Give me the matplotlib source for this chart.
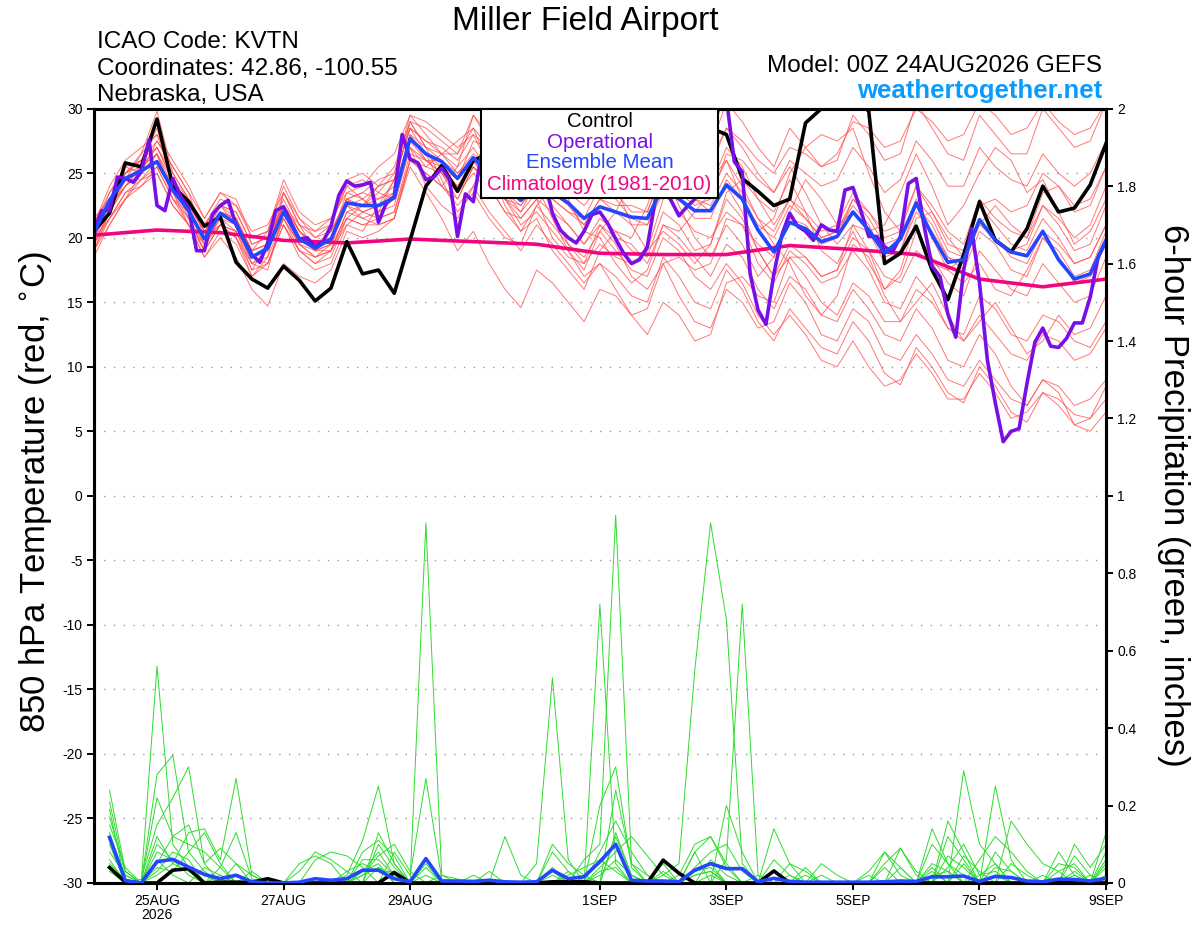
import numpy as np
import pandas as pd
import matplotlib
matplotlib.use('Agg')
import matplotlib.pyplot as plt
import matplotlib.dates as mdates
from matplotlib.patches import Rectangle

plt.rcParams['font.family'] = ['Liberation Sans', 'DejaVu Sans']
plt.rcParams['axes.unicode_minus'] = False

START = '2026-08-24 00:00'

# --- 850 hPa temperature (C), 6-hourly, 24AUG 00Z .. 9SEP 00Z ---
control_t = [20.5, 21.9, 25.8, 25.5, 29.2, 24.0, 22.8, 20.9, 21.6, 18.1, 16.8, 16.1, 17.8, 16.7, 15.1, 16.1,
             19.7, 17.2, 17.5, 15.7, 19.8, 24.0, 25.6, 23.6, 26.0, 26.5, 25.5, 24.0, 26.0, 25.0, 24.5, 24.0,
             26.0, 25.5, 25.0, 25.5, 27.5, 27.0, 27.5, 28.5, 28.0, 24.6, 23.6, 22.5, 23.0, 28.9, 30.0, 31.5,
             31.0, 29.8, 18.0, 18.8, 20.9, 17.5, 15.2, 18.7, 22.8, 19.8, 18.9, 20.7, 24.0, 22.0, 22.3, 24.1,
             27.3]
mean_t = [20.3, 22.9, 24.6, 25.2, 25.9, 23.7, 22.1, 19.9, 21.9, 21.1, 18.5, 19.2, 22.0, 19.9, 19.2, 19.9,
          22.7, 22.5, 22.5, 23.1, 27.7, 26.5, 25.9, 24.6, 26.2, 25.0, 24.0, 22.9, 24.0, 23.5, 22.7, 21.5,
          22.4, 22.0, 21.6, 21.5, 24.0, 23.0, 22.1, 22.1, 24.1, 23.0, 20.6, 18.9, 21.2, 20.7, 19.7, 20.1,
          22.0, 20.6, 18.8, 19.9, 22.7, 20.2, 18.1, 18.3, 21.4, 19.8, 18.9, 18.6, 20.5, 18.3, 16.8, 17.2,
          19.8]
# operational run is 3-hourly
oper_t = [20.5, 22.1, 22.1, 24.7, 24.6, 24.3, 25.1, 27.6, 22.5, 22.1, 24.6, 23.2, 22.3, 19.0, 19.0, 21.8,
          22.5, 22.9, 21.0, 19.8, 18.7, 18.1, 19.6, 22.1, 22.4, 21.1, 19.9, 20.0, 19.3, 19.7, 20.9, 23.3,
          24.4, 24.0, 24.1, 24.3, 21.2, 22.7, 23.2, 28.0, 26.1, 25.8, 24.5, 24.7, 25.4, 24.5, 20.1, 23.4,
          22.8, 26.4, 26.0, 25.5, 27.0, 26.5, 25.5, 26.0, 25.5, 24.5, 21.9, 20.6, 20.0, 19.6, 20.5, 21.8,
          22.0, 21.1, 19.9, 18.8, 18.0, 18.3, 19.3, 22.9, 24.0, 22.9, 21.7, 22.4, 23.0, 25.0, 27.5, 30.0,
          30.8, 25.9, 25.1, 17.2, 14.4, 13.3, 17.2, 20.2, 21.9, 20.9, 20.5, 19.8, 21.0, 20.6, 20.5, 23.7,
          23.9, 22.1, 20.1, 20.1, 19.3, 18.9, 20.1, 24.2, 24.6, 20.9, 17.8, 17.0, 14.1, 12.3, 17.5, 20.7,
          16.5, 10.5, 7.2, 4.2, 5.0, 5.2, 8.7, 11.9, 13.0, 11.6, 11.5, 12.2, 13.4, 13.4, 15.4, 18.5,
          19.8]
# climatology, daily
clim_t = [20.2, 20.6, 20.4, 19.8, 19.6, 19.9, 19.7, 19.5, 18.8, 18.7, 18.7, 19.4, 19.1, 18.7, 16.8, 16.2, 16.8]

# ensemble members
m01 = [19.5, 22.0, 24.0, 25.5, 27.0, 24.5, 22.5, 20.5, 22.5, 21.0, 19.0, 19.5, 23.0, 20.5, 19.5, 20.0,
       23.5, 23.0, 24.0, 24.5, 28.5, 27.5, 27.0, 26.0, 28.0, 27.0, 25.5, 25.0, 27.5, 26.0, 25.0, 24.0,
       26.5, 25.5, 24.0, 24.5, 28.0, 26.5, 25.0, 25.5, 28.5, 27.0, 25.0, 23.5, 26.0, 25.0, 24.0, 24.5,
       27.0, 25.5, 23.5, 24.5, 27.5, 26.0, 24.0, 24.0, 27.0, 25.5, 24.5, 24.0, 26.5, 25.0, 24.0, 25.0, 27.5]
m02 = [21.0, 23.5, 25.0, 26.5, 29.8, 25.0, 23.0, 21.0, 23.0, 22.5, 20.0, 20.5, 24.0, 21.5, 20.0, 21.0,
       24.0, 24.5, 23.5, 25.0, 29.5, 28.0, 26.5, 25.5, 27.0, 25.0, 23.5, 22.0, 24.5, 22.5, 21.0, 19.5,
       21.5, 20.5, 19.0, 18.5, 22.0, 21.0, 19.0, 19.5, 23.0, 21.5, 19.0, 17.0, 19.5, 18.5, 17.0, 17.5,
       20.0, 19.0, 16.0, 17.0, 20.5, 18.5, 16.5, 15.5, 19.0, 17.5, 16.0, 15.5, 18.0, 16.5, 15.0, 15.5, 18.5]
m03 = [20.0, 22.5, 24.5, 24.5, 25.5, 23.0, 21.5, 19.0, 21.0, 20.5, 17.5, 18.0, 21.0, 19.0, 18.0, 18.5,
       21.5, 21.0, 21.0, 21.5, 26.0, 25.0, 24.0, 22.5, 24.0, 22.0, 20.5, 19.0, 21.0, 19.5, 18.0, 16.5,
       18.0, 17.0, 15.5, 15.0, 18.5, 17.0, 15.0, 14.5, 17.5, 16.0, 13.5, 12.0, 14.5, 13.0, 11.5, 11.0,
       13.5, 12.0, 9.5, 8.6, 11.5, 10.0, 8.0, 7.2, 10.0, 8.5, 6.5, 5.7, 8.0, 7.5, 6.3, 6.0, 8.5]
m04 = [19.0, 21.5, 23.5, 24.0, 25.0, 22.5, 21.0, 18.5, 20.5, 19.5, 17.0, 18.5, 21.5, 19.5, 18.5, 19.0,
       22.0, 21.5, 22.0, 22.5, 27.0, 25.5, 25.0, 23.0, 25.5, 24.0, 22.0, 21.5, 23.0, 22.0, 21.0, 19.5,
       21.0, 20.0, 19.5, 18.0, 21.0, 20.0, 18.5, 17.0, 19.5, 18.5, 16.0, 14.5, 17.0, 16.0, 14.0, 13.5,
       16.0, 14.5, 12.5, 12.0, 14.5, 13.0, 10.5, 10.0, 12.5, 11.0, 8.5, 7.0, 9.0, 8.0, 5.5, 6.0, 7.5]
m05 = [20.5, 23.0, 25.5, 26.0, 28.5, 24.0, 22.0, 20.0, 22.0, 21.5, 18.5, 19.0, 22.5, 20.0, 19.0, 20.5,
       23.0, 23.5, 23.0, 24.0, 29.0, 28.5, 27.5, 26.5, 29.5, 28.0, 27.0, 26.5, 29.5, 28.0, 27.0, 26.0,
       29.0, 28.0, 26.5, 26.5, 29.5, 28.5, 27.0, 27.0, 30.5, 29.0, 27.0, 25.5, 28.5, 27.0, 25.5, 26.0,
       29.5, 28.0, 26.0, 26.5, 30.5, 28.5, 26.5, 26.0, 29.5, 28.0, 26.5, 26.5, 30.0, 28.5, 27.0, 27.5, 30.5]
m06 = [20.0, 22.0, 24.0, 25.0, 26.0, 24.0, 22.5, 20.5, 22.0, 21.0, 18.0, 17.5, 22.0, 20.0, 19.0, 19.5,
       22.5, 21.5, 21.0, 21.5, 25.5, 23.5, 21.5, 19.0, 20.5, 18.0, 16.0, 14.6, 17.5, 16.5, 15.0, 13.5,
       16.0, 15.5, 14.0, 14.5, 18.0, 18.5, 17.5, 18.0, 21.5, 21.0, 19.5, 18.5, 21.5, 21.0, 19.5, 20.0,
       23.0, 22.0, 20.0, 20.5, 24.0, 22.5, 20.5, 19.5, 23.0, 21.5, 20.5, 20.0, 22.5, 21.0, 19.0, 19.5, 22.5]
m07 = [21.5, 23.0, 25.0, 26.0, 27.5, 25.5, 23.5, 21.5, 23.5, 22.5, 20.5, 21.0, 23.5, 21.0, 20.0, 20.5,
       22.5, 23.0, 22.0, 23.0, 27.5, 26.0, 26.0, 25.0, 26.5, 25.5, 24.5, 23.5, 25.0, 24.5, 23.5, 22.5,
       24.0, 23.5, 22.0, 22.0, 25.5, 24.0, 23.0, 22.5, 25.0, 23.5, 21.5, 20.5, 23.0, 22.0, 20.5, 21.0,
       23.5, 22.0, 20.5, 21.0, 24.0, 22.0, 19.5, 19.0, 22.5, 21.0, 19.5, 19.0, 21.5, 20.0, 18.0, 18.5, 21.0]
m08 = [20.5, 22.5, 24.0, 25.5, 26.5, 23.5, 21.0, 19.5, 21.5, 20.5, 18.0, 19.0, 21.5, 19.0, 18.5, 19.0,
       22.0, 22.5, 23.0, 23.5, 28.0, 27.0, 26.5, 25.0, 26.0, 24.0, 23.0, 21.0, 22.0, 20.5, 19.0, 17.0,
       18.0, 16.0, 14.0, 12.5, 15.0, 14.0, 12.0, 12.5, 16.5, 17.0, 15.5, 15.0, 18.5, 18.5, 17.0, 17.5,
       21.0, 20.5, 18.0, 19.0, 22.5, 21.0, 18.5, 17.5, 20.5, 19.5, 17.5, 17.0, 20.0, 19.0, 17.0, 17.5, 20.5]
m09 = [19.5, 21.5, 23.5, 24.5, 25.0, 22.5, 21.0, 19.0, 21.0, 20.0, 17.0, 18.0, 21.0, 19.0, 18.0, 19.0,
       21.5, 21.0, 21.5, 22.0, 26.5, 26.0, 25.5, 24.5, 27.5, 27.0, 26.0, 25.5, 28.0, 27.5, 26.5, 25.5,
       27.5, 26.5, 25.0, 24.5, 27.0, 25.5, 23.0, 22.0, 24.0, 22.0, 19.0, 17.0, 18.5, 17.0, 15.0, 14.0,
       16.5, 15.5, 13.5, 13.5, 16.0, 15.0, 13.0, 12.5, 15.5, 14.5, 12.5, 12.0, 14.0, 13.5, 12.0, 11.5, 13.5]
m10 = [21.0, 24.0, 26.0, 27.0, 28.0, 24.5, 22.0, 20.0, 22.5, 22.0, 19.5, 20.0, 22.5, 20.5, 19.5, 20.5,
       23.0, 22.0, 22.5, 23.5, 28.0, 26.0, 25.0, 23.5, 25.0, 23.5, 23.0, 22.0, 23.5, 23.0, 22.0, 21.0,
       23.0, 22.5, 22.5, 22.0, 25.0, 24.5, 23.5, 24.0, 27.0, 25.5, 23.0, 21.0, 23.0, 21.5, 20.0, 20.5,
       22.5, 21.0, 18.5, 19.0, 22.0, 20.5, 18.5, 18.0, 21.0, 20.0, 19.0, 19.5, 22.5, 21.5, 20.0, 21.0, 24.0]
m11 = [20.0, 23.0, 24.5, 25.0, 26.5, 24.0, 22.5, 20.5, 22.0, 21.5, 19.0, 19.5, 22.5, 20.5, 19.5, 20.0,
       23.0, 23.5, 24.5, 25.0, 29.0, 27.0, 26.0, 24.5, 26.0, 25.0, 24.5, 24.5, 27.0, 26.5, 25.5, 25.0,
       27.5, 27.0, 26.0, 26.0, 29.0, 28.0, 26.5, 26.0, 28.5, 27.5, 26.0, 25.0, 27.0, 26.5, 25.5, 26.5,
       29.0, 28.5, 27.0, 27.5, 30.0, 29.0, 27.5, 28.0, 30.5, 29.5, 28.0, 28.5, 30.5, 29.0, 28.0, 28.5, 30.5]
m12 = [19.0, 21.0, 23.0, 24.0, 25.5, 23.0, 21.0, 18.5, 20.0, 18.5, 16.0, 14.7, 18.0, 17.0, 16.5, 17.5,
       20.5, 20.0, 20.5, 21.5, 26.0, 25.0, 24.0, 23.0, 25.5, 24.5, 23.5, 22.5, 24.0, 23.0, 22.0, 21.5,
       24.0, 23.0, 21.5, 21.0, 23.5, 22.0, 20.5, 20.0, 22.0, 21.0, 18.0, 16.5, 19.0, 18.0, 16.5, 17.0,
       19.0, 17.5, 15.0, 14.5, 17.0, 15.5, 13.0, 12.0, 14.0, 12.5, 11.0, 10.5, 12.5, 12.0, 10.5, 11.0, 13.0]
m13 = [20.5, 22.5, 24.5, 25.5, 26.5, 24.5, 23.0, 21.0, 22.5, 22.0, 19.5, 20.0, 22.5, 20.5, 19.0, 20.0,
       23.0, 22.5, 23.5, 23.0, 27.0, 26.0, 25.0, 24.0, 25.5, 24.0, 22.0, 20.5, 22.5, 21.0, 19.5, 18.5,
       20.5, 19.0, 17.5, 17.0, 20.0, 19.0, 17.0, 16.0, 18.0, 16.5, 14.0, 12.5, 14.0, 12.5, 10.5, 10.0,
       12.0, 10.0, 8.5, 9.0, 11.0, 9.5, 7.5, 7.5, 9.5, 8.0, 6.0, 6.5, 8.0, 7.0, 5.5, 5.0, 6.5]
m14 = [20.0, 22.5, 24.0, 25.0, 26.0, 23.5, 21.5, 19.5, 21.5, 21.0, 18.5, 19.0, 22.0, 19.5, 18.5, 19.5,
       22.5, 22.0, 22.5, 23.0, 27.5, 26.5, 25.5, 24.0, 26.0, 24.5, 23.0, 22.5, 24.5, 23.5, 22.5, 21.0,
       23.0, 22.0, 21.0, 21.0, 24.0, 23.0, 21.5, 21.5, 24.5, 23.0, 21.0, 20.0, 22.5, 21.5, 20.0, 20.5,
       23.0, 21.5, 19.5, 20.0, 23.0, 21.5, 19.0, 18.5, 21.5, 20.0, 18.5, 18.0, 20.5, 19.5, 18.0, 18.5, 21.0]
m15 = [18.5, 21.0, 23.0, 24.5, 26.0, 24.0, 22.0, 19.5, 21.0, 20.5, 18.5, 18.0, 21.5, 19.5, 19.0, 19.5,
       21.5, 22.5, 24.0, 25.5, 29.0, 27.0, 24.5, 22.0, 23.5, 21.5, 20.0, 19.5, 22.5, 24.0, 25.0, 24.5,
       26.0, 24.0, 21.0, 19.0, 20.5, 19.5, 18.0, 19.5, 23.5, 24.5, 23.0, 22.0, 24.5, 22.0, 19.0, 18.0,
       20.5, 18.0, 16.0, 17.5, 21.5, 22.0, 20.0, 18.5, 21.0, 22.5, 21.0, 20.0, 23.5, 24.0, 22.0, 22.5, 25.5]
m16 = [21.0, 22.5, 25.0, 25.5, 27.0, 25.0, 23.0, 21.0, 22.5, 21.5, 19.0, 19.5, 22.5, 21.0, 20.5, 21.0,
       24.5, 25.0, 24.0, 24.5, 28.5, 27.5, 26.5, 26.5, 28.5, 27.0, 25.0, 23.0, 25.0, 22.0, 19.5, 18.0,
       19.5, 18.5, 18.0, 19.0, 23.0, 23.5, 22.5, 23.0, 26.5, 26.0, 24.5, 23.5, 25.5, 23.5, 21.0, 19.5,
       21.0, 19.0, 17.0, 16.5, 19.0, 18.0, 17.5, 18.5, 22.5, 23.0, 22.0, 22.5, 25.0, 24.0, 22.5, 23.0, 25.5]
m17 = [20.0, 21.5, 23.0, 25.0, 27.5, 25.5, 23.5, 20.0, 21.0, 20.0, 18.0, 18.5, 23.5, 21.5, 20.5, 21.5,
       24.0, 23.0, 22.0, 24.5, 27.0, 24.0, 22.5, 21.5, 24.0, 26.5, 27.5, 25.0, 24.0, 21.5, 19.0, 17.5,
       20.5, 22.0, 24.5, 26.0, 25.0, 22.5, 20.0, 18.5, 21.0, 19.5, 17.0, 18.5, 22.0, 24.5, 23.0, 21.0,
       22.0, 20.5, 21.0, 23.5, 26.5, 24.0, 21.0, 22.5, 25.0, 27.0, 26.0, 23.5, 24.5, 22.0, 19.5, 20.5, 23.0]
m18 = [19.5, 22.0, 25.0, 26.0, 27.0, 24.5, 21.5, 19.0, 22.0, 21.5, 19.0, 20.5, 21.0, 18.5, 17.5, 18.0,
       21.0, 20.5, 22.5, 24.5, 28.5, 26.5, 24.0, 25.5, 29.5, 27.5, 25.0, 24.0, 26.0, 25.5, 23.0, 20.5,
       20.0, 18.0, 16.5, 17.5, 21.0, 20.5, 22.0, 23.5, 26.0, 24.0, 21.5, 19.5, 18.0, 15.5, 14.0, 15.5,
       19.5, 18.5, 15.5, 13.5, 15.0, 16.5, 14.0, 12.0, 13.5, 15.0, 13.0, 11.0, 12.0, 14.0, 12.5, 13.0, 15.5]
m19 = [20.5, 23.5, 25.5, 25.0, 26.5, 23.0, 22.0, 20.0, 21.0, 20.0, 17.5, 19.5, 23.5, 21.0, 19.0, 19.0,
       21.0, 22.0, 21.5, 22.0, 26.0, 25.5, 26.5, 27.5, 28.5, 25.5, 22.5, 20.5, 21.5, 19.0, 17.5, 16.0,
       19.0, 20.5, 20.0, 22.5, 26.5, 27.5, 25.5, 24.5, 26.0, 23.0, 20.5, 21.5, 25.0, 27.0, 28.0, 27.5,
       28.5, 25.0, 22.0, 20.5, 22.5, 20.0, 17.5, 16.5, 18.0, 16.0, 15.5, 17.5, 20.0, 18.5, 16.5, 17.0, 19.5]
m20 = [19.0, 22.0, 24.5, 26.5, 28.0, 26.0, 24.0, 21.5, 23.5, 23.0, 20.0, 20.5, 24.5, 22.0, 21.0, 21.5,
       23.5, 24.0, 25.5, 26.5, 29.5, 29.0, 28.0, 27.0, 28.0, 25.5, 23.0, 21.5, 23.0, 20.0, 18.5, 18.0,
       21.0, 19.5, 17.0, 16.0, 18.0, 15.5, 13.5, 13.0, 16.0, 15.0, 13.0, 13.5, 16.5, 15.0, 12.5, 12.0,
       14.5, 13.5, 11.0, 10.5, 12.5, 11.0, 9.0, 8.5, 10.5, 9.0, 7.5, 7.0, 9.0, 8.5, 7.0, 7.5, 9.0]
members_t = [m01, m02, m03, m04, m05, m06, m07, m08, m09, m10,
             m11, m12, m13, m14, m15, m16, m17, m18, m19, m20]

# --- 6-hour precipitation (inches), 24AUG 06Z .. 9SEP 00Z ---
mean_p = [.118, .006, 0, .055, .061, .041, .022, .011, .020, .003, 0, 0, .002, .011, .007, .011,
          .033, .033, .011, .003, .063, .005, .005, .004, .007, .003, .002, .003, .033, .011, .016, .055,
          .100, .007, .005, .005, .003, .033, .050, .037, .037, .003, .012, .004, .002, .002, .002, .002,
          .002, .003, .005, .004, .016, .016, .018, .004, .017, .014, .005, .003, .010, .009, .005, .012]
control_p = [.040, .002, 0, 0, .033, .037, 0, .002, .002, .002, .011, 0, 0, 0, 0, 0,
             0, 0, .027, 0, 0, 0, 0, 0, 0, 0, 0, 0, .003, .003, .003, 0,
             0, 0, 0, .059, .025, 0, 0, 0, 0, 0, .031, 0, 0, 0, 0, 0,
             0, 0, 0, 0, 0, 0, 0, 0, 0, 0, 0, 0, .006, 0, 0, 0]
p01 = [.24, .03, 0, .56, .10, .04, 0, .02, 0, 0, 0, 0, 0, 0, 0, 0,
       .03, .05, 0, 0, .93, .02, 0, 0, 0, 0, 0, 0, .04, 0, 0, 0,
       .12, .02, 0, 0, 0, .03, .05, 0, 0, 0, 0, 0, .02, 0, 0, 0,
       0, 0, 0, 0, .05, .03, 0, 0, .02, 0, 0, 0, 0, 0, 0, .05]
p02 = [.21, .02, 0, .28, .33, .08, .13, .05, 0, 0, 0, 0, 0, 0, 0, .02,
       .11, .25, .05, 0, .02, 0, 0, 0, 0, 0, 0, 0, 0, .03, 0, .72,
       .05, 0, 0, .03, 0, 0, .02, 0, 0, 0, 0, 0, 0, 0, 0, 0,
       0, .08, .04, 0, 0, 0, .29, .10, .05, 0, 0, 0, 0, .07, .02, 0]
p03 = [.19, 0, .01, .15, .22, .30, .05, 0, .02, 0, 0, 0, 0, .06, .08, .07,
       .04, 0, .08, .02, .27, .01, 0, 0, 0, 0, 0, .05, .53, .06, 0, 0,
       .24, .05, .02, 0, 0, 0, 0, .06, .72, .02, 0, 0, 0, 0, 0, 0,
       .02, 0, 0, 0, .14, .05, 0, 0, .25, .06, 0, 0, 0, 0, 0, .13]
p04 = [.17, .03, 0, .12, .05, .13, .14, .06, .27, .02, 0, 0, 0, 0, 0, 0,
       0, .10, .04, 0, 0, 0, 0, 0, 0, .12, .02, 0, 0, 0, .06, .10,
       .95, .05, 0, 0, .02, .10, .12, .04, 0, 0, 0, 0, 0, .02, 0, 0,
       0, 0, .09, .02, 0, .16, .08, 0, 0, .16, .10, .05, .03, 0, 0, 0]
p05 = [.15, .04, 0, .08, .06, .02, 0, .04, .13, .01, 0, 0, 0, 0, 0, 0,
       .08, .11, .07, 0, 0, 0, 0, 0, 0, 0, 0, 0, .08, .03, 0, 0,
       0, 0, 0, .02, .05, .55, .93, .68, .05, 0, 0, .05, .03, 0, 0, 0,
       0, 0, 0, 0, .03, 0, .07, .03, 0, 0, 0, 0, .08, .02, 0, .02]
p06 = [.13, .01, 0, .10, .06, .04, .02, 0, 0, 0, 0, 0, .03, .08, .06, .03,
       0, .13, .05, 0, .05, 0, 0, 0, .03, 0, 0, 0, .03, 0, 0, .20,
       .30, .04, 0, 0, 0, .08, 0, .20, .08, 0, .14, .05, 0, 0, 0, 0,
       0, 0, 0, 0, 0, .07, .04, 0, .08, .03, 0, 0, 0, .10, .04, .10]
p07 = [.10, 0, 0, .22, .12, .10, .08, .04, 0, .03, 0, 0, 0, 0, 0, 0,
       .03, .08, .02, 0, .04, 0, 0, 0, 0, 0, 0, 0, .10, .05, .02, 0,
       .13, .02, 0, .05, 0, .08, .12, .05, 0, 0, 0, 0, 0, .05, .02, 0,
       0, .05, .09, .03, 0, 0, 0, .06, .12, .08, .03, 0, 0, 0, 0, .06]
p08 = [.08, .02, 0, .05, .12, .15, .05, .09, .05, 0, 0, 0, .05, .07, .05, 0,
       .02, .07, .10, .03, 0, 0, 0, 0, 0, 0, 0, 0, 0, 0, 0, .04,
       .08, .12, .07, .02, 0, 0, .06, .02, 0, 0, .06, .02, 0, 0, 0, 0,
       0, .04, 0, 0, .10, .05, .02, 0, 0, .05, .02, 0, .05, .04, 0, 0]
p09 = [.06, 0, 0, .04, .03, .08, .03, 0, 0, 0, 0, 0, 0, 0, 0, .03,
       .05, .03, .03, 0, 0, 0, 0, .02, 0, 0, 0, 0, .02, 0, 0, .03,
       .04, 0, 0, 0, 0, .03, .04, 0, 0, 0, 0, 0, 0, 0, 0, 0,
       .03, .08, .02, 0, 0, .04, .10, .02, .05, 0, 0, .02, 0, .03, 0, .08]
p10 = [.05, .01, 0, .03, .08, .06, 0, 0, .05, .02, 0, 0, 0, 0, 0, 0,
       0, .04, .02, 0, 0, .02, .01, 0, 0, 0, 0, 0, 0, 0, 0, .02,
       .06, .02, 0, 0, 0, .02, .03, 0, 0, .02, 0, 0, .04, 0, 0, 0,
       0, 0, 0, 0, .04, 0, .05, 0, .04, .03, 0, 0, 0, .02, 0, 0]
p11 = [.12, 0, 0, .02, .05, .03, 0, 0, 0, 0, 0, 0, 0, 0, 0, 0,
       .06, .06, .02, 0, 0, 0, 0, 0, 0, 0, 0, 0, 0, 0, 0, .08,
       .16, .08, .02, 0, 0, .04, .08, .10, .03, 0, 0, 0, 0, 0, 0, 0,
       0, 0, .04, 0, 0, .12, .06, 0, 0, 0, 0, 0, .03, .05, 0, .04]
p12 = [.03, 0, 0, .06, .02, 0, .04, .02, 0, 0, 0, 0, 0, 0, 0, 0,
       .02, .04, 0, 0, 0, 0, 0, 0, 0, 0, 0, 0, 0, .02, .04, .06,
       .03, 0, 0, 0, 0, .02, .03, 0, 0, 0, 0, .02, 0, 0, 0, 0,
       0, 0, 0, 0, .02, .03, 0, .02, .03, 0, 0, 0, 0, 0, .02, 0]
members_p = [p01, p02, p03, p04, p05, p06, p07, p08, p09, p10, p11, p12]

tick_dates = ['2026-08-25', '2026-08-27', '2026-08-29', '2026-09-01',
              '2026-09-03', '2026-09-05', '2026-09-07', '2026-09-09']
tick_labels = ['25AUG\n2026', '27AUG', '29AUG', '1SEP', '3SEP', '5SEP', '7SEP', '9SEP']

RED = '#ff4a4a'
GREEN = '#2ddc2d'
PURPLE = '#7a0ee6'
BLUE = '#2346ff'
PINK = '#f0067f'


def main():
    t6 = mdates.date2num(pd.date_range(START, periods=len(mean_t), freq='6h').to_pydatetime())
    t3 = mdates.date2num(pd.date_range(START, periods=len(oper_t), freq='3h').to_pydatetime())
    tday = mdates.date2num(pd.date_range(START, periods=len(clim_t), freq='D').to_pydatetime())
    tp = t6[1:]

    fig = plt.figure(figsize=(12, 9.27), dpi=100)
    ax = fig.add_axes([0.0781, 0.0475, 0.8436, 0.8352])
    ax2 = ax.twinx()

    for m in members_t:
        ax.plot(t6, m, color=RED, lw=0.7, alpha=0.75, zorder=2)
    ax.plot(tday, clim_t, color=PINK, lw=2.6, zorder=4)
    ax.plot(t6, control_t, color='black', lw=2.6, zorder=5)
    ax.plot(t3, oper_t, color=PURPLE, lw=2.6, zorder=6)
    ax.plot(t6, mean_t, color=BLUE, lw=2.6, zorder=7)

    for m in members_p:
        ax2.plot(tp, m, color=GREEN, lw=0.7, zorder=2)
    ax2.plot(tp, control_p, color='black', lw=2.6, zorder=5)
    ax2.plot(tp, mean_p, color=BLUE, lw=2.6, zorder=6)

    ax.set_xlim(t6[0], t6[-1])
    ax.set_ylim(-30, 30)
    ax2.set_ylim(0, 2)

    ax.set_yticks(np.arange(-30, 31, 5))
    ax.set_yticklabels([str(v) for v in range(-30, 31, 5)], fontsize=10)
    for v in range(-25, 30, 5):
        ax.axhline(v, color='#999999', lw=1.0, ls=(0, (1, 6)), zorder=1)

    ticks_r = np.round(np.arange(0, 2.01, 0.2), 1)
    ax2.set_yticks(ticks_r)
    ax2.set_yticklabels(['%g' % v for v in ticks_r], fontsize=10)

    ax.set_xticks(mdates.date2num(pd.to_datetime(tick_dates).to_pydatetime()))
    ax.set_xticklabels(tick_labels, fontsize=10, linespacing=1.0)

    for a in (ax, ax2):
        for s in a.spines.values():
            s.set_linewidth(2.2)
        a.tick_params(direction='out', length=5, width=1.4, pad=3)

    # legend box
    ax2.add_patch(Rectangle((0.3826, 0.8847), 0.2341, 0.1153, transform=ax2.transAxes,
                            facecolor='white', edgecolor='black', lw=1.5, zorder=20, clip_on=False))
    leg = [('Control', 'black', 0.984), ('Operational', PURPLE, 0.957),
           ('Ensemble Mean', BLUE, 0.930), ('Climatology (1981-2010)', PINK, 0.902)]
    for txt, c, y in leg:
        ax2.text(0.4997, y, txt, color=c, fontsize=14.8, ha='center', va='center',
                 transform=ax2.transAxes, zorder=21)

    fig.text(0.4875, 0.977, 'Miller Field Airport', fontsize=24, ha='center', va='center')
    fig.text(0.0808, 0.9542, 'ICAO Code: KVTN', fontsize=17.5, va='center')
    fig.text(0.0808, 0.926, 'Coordinates: 42.86, -100.55', fontsize=17.5, va='center')
    fig.text(0.0808, 0.898, 'Nebraska, USA', fontsize=17.5, va='center')
    fig.text(0.9183, 0.929, 'Model: 00Z 24AUG2026 GEFS', fontsize=17.5, ha='right', va='center')
    fig.text(0.9183, 0.9015, 'weathertogether.net', fontsize=18.5, fontweight='bold',
             color='#0a9bff', ha='right', va='center')

    fig.text(0.0295, 0.469, '850 hPa Temperature (red, $^{\\circ}$C)', fontsize=25,
             rotation=90, ha='center', va='center')
    fig.text(0.978, 0.466, '6-hour Precipitation (green, inches)', fontsize=25,
             rotation=-90, ha='center', va='center')

    fig.savefig('out.png', dpi=100)


if __name__ == '__main__':
    main()
